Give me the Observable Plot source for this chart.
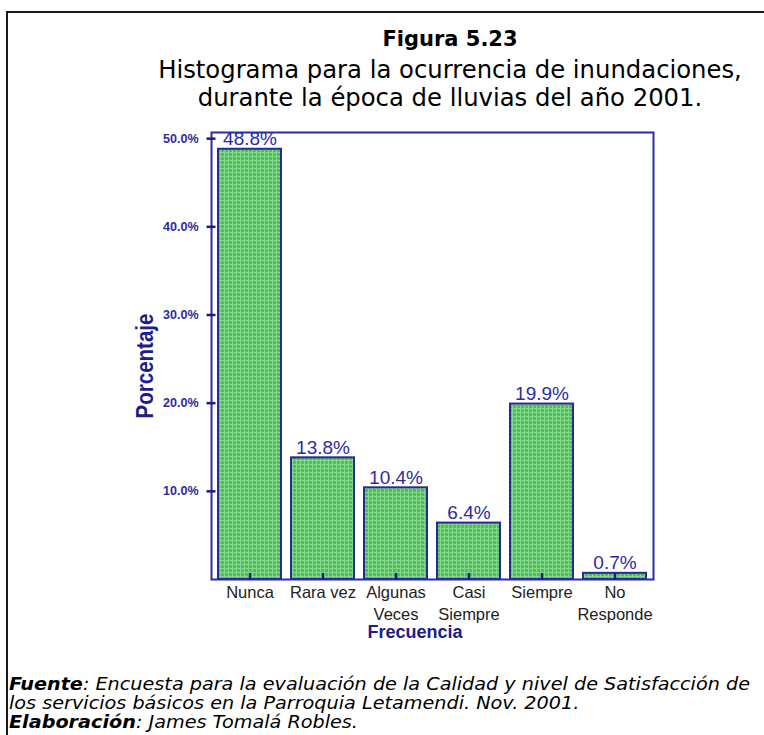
<!DOCTYPE html>
<html><head><meta charset="utf-8">
<script src="https://cdn.jsdelivr.net/npm/d3@7"></script>
<script src="https://cdn.jsdelivr.net/npm/@observablehq/plot@0.6"></script>
<style>
body{margin:0;background:#fff;}
#page{position:relative;width:764px;height:735px;overflow:hidden;background:#fff;}
#border{position:absolute;left:6px;top:11px;width:800px;height:800px;border-left:2px solid #1a1a1a;border-top:2px solid #1a1a1a;}
.tl{position:absolute;left:150px;width:600px;text-align:center;font-family:"DejaVu Sans",Verdana,sans-serif;color:#000;white-space:nowrap;line-height:1;}
#chart{position:absolute;left:0;top:120px;}
#foot{position:absolute;left:9px;top:675px;font-family:"DejaVu Sans",Verdana,sans-serif;font-style:italic;font-size:17px;color:#000;white-space:nowrap;transform-origin:0 0;transform:scaleX(1.13);}
#foot div{height:19px;line-height:19px;}
</style></head>
<body><div id="page">
<div id="border"></div>
<div class="tl" style="top:29px;font-size:21px;font-weight:bold;">Figura 5.23</div>
<div class="tl" style="top:58px;font-size:24.3px;">Histograma para la ocurrencia de inundaciones,</div>
<div class="tl" style="top:86px;font-size:24.3px;">durante la época de lluvias del año 2001.</div>
<div id="chart"></div>
<div id="foot"><div><b>Fuente</b>: Encuesta para la evaluación de la Calidad y nivel de Satisfacción de</div><div>los servicios básicos en la Parroquia Letamendi. Nov. 2001.</div><div><b>Elaboración</b>: James Tomalá Robles.</div></div>
</div>
<script>
const categories = ["Nunca", "Rara vez", "Algunas\nVeces", "Casi\nSiempre", "Siempre", "No\nResponde"];
const values = [48.8, 13.8, 10.4, 6.4, 19.9, 0.7];
const yTicks = [10, 20, 30, 40, 50];
const yLabel = "Porcentaje";
const xLabel = "Frecuencia";

const data = categories.map((c, i) => ({cat: c, v: values[i]}));
const navy = "#2b2ba3";
const dark = "#1c1c8e";

const chart = Plot.plot({
  width: 764, height: 530,
  marginLeft: 211, marginRight: 111, marginTop: 12, marginBottom: 71,
  style: {fontFamily: "'Liberation Sans', Arial, sans-serif", background: "transparent", overflow: "visible"},
  x: {domain: categories, paddingInner: 0.14, paddingOuter: 0.08, label: null},
  y: {domain: [0, 50.7], label: null},
  marks: [
    Plot.barY(data, {x: "cat", y: "v", fill: "url(#greendots)", stroke: "#2a2a96", strokeWidth: 2}),
    Plot.frame({stroke: navy, strokeWidth: 2}),
    Plot.text(data, {x: "cat", y: "v", text: d => d.v.toFixed(1) + "%", lineAnchor: "middle", dy: -10, fill: navy, fontSize: 19}),
    Plot.axisY({ticks: yTicks, tickSize: 9, dx: 4.5, tickFormat: () => "", stroke: dark, strokeWidth: 2.5, label: null}),
    Plot.axisY({ticks: yTicks, tickFormat: d => d.toFixed(1) + "%", tickSize: 0, tickPadding: 13, fill: navy, fontSize: 12.5, fontWeight: "bold", letterSpacing: 1.1, label: null}),
    Plot.axisX({tickSize: 7, dy: -6, tickFormat: () => "", stroke: dark, strokeWidth: 2.5, label: null}),
    Plot.axisX({tickSize: 0, tickPadding: 3, fill: "#222", fontSize: 16.5, lineHeight: 1.33, label: null}),
    Plot.text([yLabel], {frameAnchor: "left", rotate: -90, dx: -66, dy: 10, textAnchor: "middle", lineAnchor: "middle", fill: dark, fontSize: 23, fontWeight: "bold", className: "ylab"}),
    Plot.text([xLabel], {frameAnchor: "bottom", dx: -17.5, dy: 53, textAnchor: "middle", lineAnchor: "middle", fill: dark, fontSize: 18, fontWeight: "bold"})
  ]
});
d3.select(chart).insert("defs", ":first-child").html(
  '<pattern id="greendots" width="4" height="4" patternUnits="userSpaceOnUse">' +
  '<rect width="4" height="4" fill="#55c255"/>' +
  '<rect width="4" height="1" fill="#7fd88a"/>' +
  '<rect width="1" height="4" fill="#7fd88a"/>' +
  '<rect x="2" y="2" width="1" height="1" fill="#45ad45"/>' +
  '</pattern>');
d3.select(chart).selectAll(".ylab text").attr("textLength", 105).attr("lengthAdjust", "spacingAndGlyphs");
document.getElementById("chart").appendChild(chart);
</script>
</body></html>
